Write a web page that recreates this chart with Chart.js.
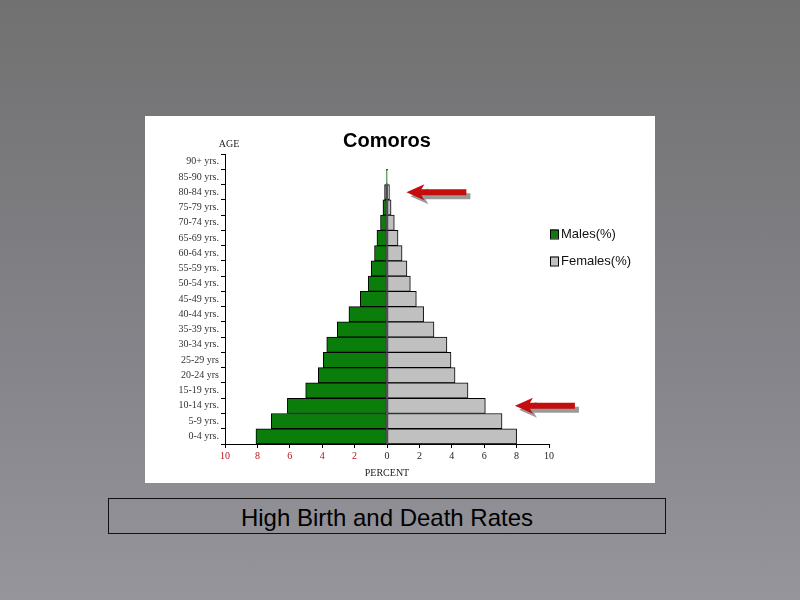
<!DOCTYPE html>
<html>
<head>
<meta charset="utf-8">
<script src="https://cdn.jsdelivr.net/npm/chart.js@4"></script>
<style>
body { margin: 0; width: 800px; height: 600px; overflow: hidden; position: relative;
       background: linear-gradient(#717171, #84848a 60%, #95959b); font-family: "Liberation Sans", Arial, sans-serif; }
#caja { position: absolute; left: 145px; top: 116px; width: 510px; height: 367px; background: #fff; }
#pie { position: absolute; left: 108px; top: 498px; width: 556px; height: 34px; border: 1px solid #111;
       text-align: center; font-size: 24px; line-height: 38px; color: #000; }
</style>
</head>
<body>
<div id="caja"><canvas id="myChart" width="510" height="367"></canvas></div>
<div id="pie">High Birth and Death Rates</div>
<script>
// Grupos de edad (de arriba hacia abajo)
var grupos = ["90+ yrs.", "85-90 yrs.", "80-84 yrs.", "75-79 yrs.", "70-74 yrs.", "65-69 yrs.", "60-64 yrs.",
    "55-59 yrs.", "50-54 yrs.", "45-49 yrs.", "40-44 yrs.", "35-39 yrs.", "30-34 yrs.", "25-29 yrs",
    "20-24 yrs", "15-19 yrs.", "10-14 yrs.", "5-9 yrs.", "0-4 yrs."];

// Porcentajes
var hombres = [0, 0.05, 0.15, 0.25, 0.4, 0.62, 0.77, 0.97, 1.16, 1.65, 2.35, 3.07, 3.72, 3.93, 4.24, 5.02, 6.15, 7.14, 8.09];
var mujeres = [0, 0.05, 0.15, 0.25, 0.45, 0.68, 0.93, 1.23, 1.44, 1.81, 2.26, 2.9, 3.7, 3.95, 4.2, 5.0, 6.07, 7.1, 8.0];

var ticksX = [-10, -8, -6, -4, -2, 0, 2, 4, 6, 8, 10];

// Flechas rojas (grupo, desde, hasta en porcentaje)
var flechasGrupo = ["80-84 yrs.", "10-14 yrs."];
var flechasDesde = [1.2, 7.9];
var flechasHasta = [4.9, 11.6];

var verde = "#0b7d0b";
var gris = "#c0c0c0";

function dibujarFlecha(ctx, x1, x2, y, color) {
    ctx.fillStyle = color;
    ctx.beginPath();
    ctx.moveTo(x1, y);
    ctx.lineTo(x1 + 18, y - 8);
    ctx.lineTo(x1 + 15, y - 3);
    ctx.lineTo(x2, y - 3);
    ctx.lineTo(x2, y + 3);
    ctx.lineTo(x1 + 15, y + 3);
    ctx.lineTo(x1 + 18, y + 8);
    ctx.closePath();
    ctx.fill();
}

var extras = {
    id: "extras",
    afterDraw: function (chart) {
        var ctx = chart.ctx;
        var sx = chart.scales.x;
        var sy = chart.scales.y;
        ctx.save();
        // Titulo
        ctx.fillStyle = "#000";
        ctx.font = "bold 20px 'Liberation Sans', Arial, sans-serif";
        ctx.textAlign = "center";
        ctx.textBaseline = "middle";
        ctx.fillText("Comoros", sx.getPixelForValue(0), 25);
        ctx.font = "10px 'Liberation Serif', serif";
        ctx.fillStyle = "#222";
        ctx.fillText("AGE", 84, 28);

        // Flechas
        flechasGrupo.forEach(function (g, i) {
            var y = sy.getPixelForValue(grupos.indexOf(g));
            var a = sx.getPixelForValue(flechasDesde[i]);
            var b = sx.getPixelForValue(flechasHasta[i]);
            dibujarFlecha(ctx, a + 4, b + 4, y + 4, "#9a9a9a");
            dibujarFlecha(ctx, a, b, y, "#c40d0d");
        });

        // Leyenda
        var lx = sx.right + 1;
        chart.data.datasets.forEach(function (ds, i) {
            var y = 118 + i * 27;
            ctx.fillStyle = ds.backgroundColor;
            ctx.fillRect(lx, y - 4.5, 8, 9);
            ctx.strokeStyle = "#000";
            ctx.lineWidth = 1;
            ctx.strokeRect(lx + 0.5, y - 4, 8, 9);
            ctx.fillStyle = "#111";
            ctx.font = "13px 'Liberation Sans', Arial, sans-serif";
            ctx.textAlign = "left";
            ctx.textBaseline = "middle";
            ctx.fillText(ds.label, lx + 11, y);
        });
        ctx.restore();
    }
};

var ctx = document.getElementById("myChart").getContext("2d");

var myChart = new Chart(ctx, {
    type: "bar",
    data: {
        labels: grupos,
        datasets: [
            {
                label: "Males(%)",
                data: hombres.map(function (v) { return -v; }),
                backgroundColor: verde,
                borderColor: "#000",
                borderWidth: 1,
                borderSkipped: false,
                barPercentage: 1,
                categoryPercentage: 1
            },
            {
                label: "Females(%)",
                data: mujeres,
                backgroundColor: gris,
                borderColor: "#000",
                borderWidth: 1,
                borderSkipped: false,
                barPercentage: 1,
                categoryPercentage: 1
            }
        ]
    },
    options: {
        indexAxis: "y",
        responsive: false,
        animation: false,
        layout: { padding: { left: 0, right: 106, top: 38, bottom: 0 } },
        plugins: {
            legend: { display: false },
            tooltip: { enabled: false }
        },
        scales: {
            x: {
                stacked: true,
                min: -10,
                max: 10,
                afterBuildTicks: function (scale) {
                    scale.ticks = ticksX.map(function (v) { return { value: v }; });
                },
                afterFit: function (scale) { scale.height = 39; },
                grid: { display: true, drawOnChartArea: false, drawTicks: true, tickLength: 4, color: "#000" },
                border: { display: true, color: "#000", width: 1 },
                ticks: {
                    autoSkip: false,
                    padding: 2,
                    font: { family: "'Liberation Serif', serif", size: 10 },
                    color: function (c) { return c.tick.value < 0 ? "#b3141a" : "#222"; },
                    callback: function (v) { return Math.abs(v); }
                },
                title: {
                    display: true,
                    text: "PERCENT",
                    color: "#222",
                    font: { family: "'Liberation Serif', serif", size: 10 },
                    padding: { top: 2, bottom: 4 }
                }
            },
            y: {
                stacked: true,
                afterFit: function (scale) { scale.width = 80; },
                grid: { display: true, drawOnChartArea: false, drawTicks: true, tickLength: 4, color: "#000", offset: true },
                border: { display: true, color: "#000", width: 1 },
                ticks: {
                    autoSkip: false,
                    padding: 2,
                    color: "#333",
                    font: { family: "'Liberation Serif', serif", size: 10 }
                }
            }
        }
    },
    plugins: [extras]
});
</script>
</body>
</html>
